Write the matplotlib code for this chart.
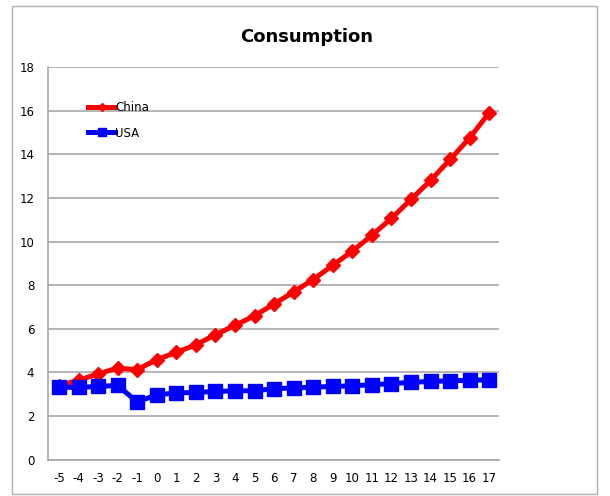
import matplotlib
matplotlib.use('Agg')
import matplotlib.pyplot as plt
from matplotlib.patches import Rectangle

plt.rcParams['axes.unicode_minus'] = False

# Years relative to the base year
years = list(range(-5, 18))

china = [3.40, 3.64, 3.94, 4.20, 4.13, 4.59, 4.92, 5.27, 5.73, 6.16, 6.60, 7.14,
         7.69, 8.26, 8.91, 9.56, 10.29, 11.06, 11.93, 12.80, 13.76, 14.75, 15.90]
usa = [3.32, 3.32, 3.36, 3.41, 2.65, 2.98, 3.06, 3.09, 3.13, 3.16, 3.16, 3.26,
       3.29, 3.33, 3.36, 3.39, 3.44, 3.49, 3.55, 3.59, 3.62, 3.64, 3.67]

fig = plt.figure(figsize=(6.10, 4.96), dpi=100)
ax = fig.add_axes([0.079, 0.073, 0.739, 0.792])

# outer chart frame
fig.patches.append(Rectangle((0.020, 0.004), 0.959, 0.984, transform=fig.transFigure,
                             fill=False, edgecolor='#b0b0b0', linewidth=1))

ax.plot(years, china, color='#ff0000', linewidth=3.6, marker='D', markersize=7,
        label='China', zorder=3)
ax.plot(years, usa, color='#0000ff', linewidth=3.6, marker='s', markersize=9.5,
        label='USA', zorder=4)

ax.set_xlim(-5.55, 17.5)
ax.set_ylim(0, 18)
ax.set_yticks(range(0, 19, 2))
ax.set_xticks(years)
ax.tick_params(axis='both', length=0, labelsize=8.5, colors='black')
ax.tick_params(axis='x', pad=9)
ax.tick_params(axis='y', pad=10)
ax.grid(axis='y', color='#a8a8a8', linewidth=1.2)
ax.set_axisbelow(True)
for side in ['top', 'right']:
    ax.spines[side].set_visible(False)
for side in ['left', 'bottom']:
    ax.spines[side].set_color('#a8a8a8')
    ax.spines[side].set_linewidth(1.2)

fig.text(0.503, 0.925, 'Consumption', ha='center', va='center',
         fontsize=13, fontweight='bold')

ax.legend(loc='upper left', bbox_to_anchor=(0.065, 0.94),
          frameon=False, fontsize=8.5, handlelength=2.3, handletextpad=0.0,
          labelspacing=1.05, markerscale=0.6)

plt.savefig('out.png', dpi=100)
